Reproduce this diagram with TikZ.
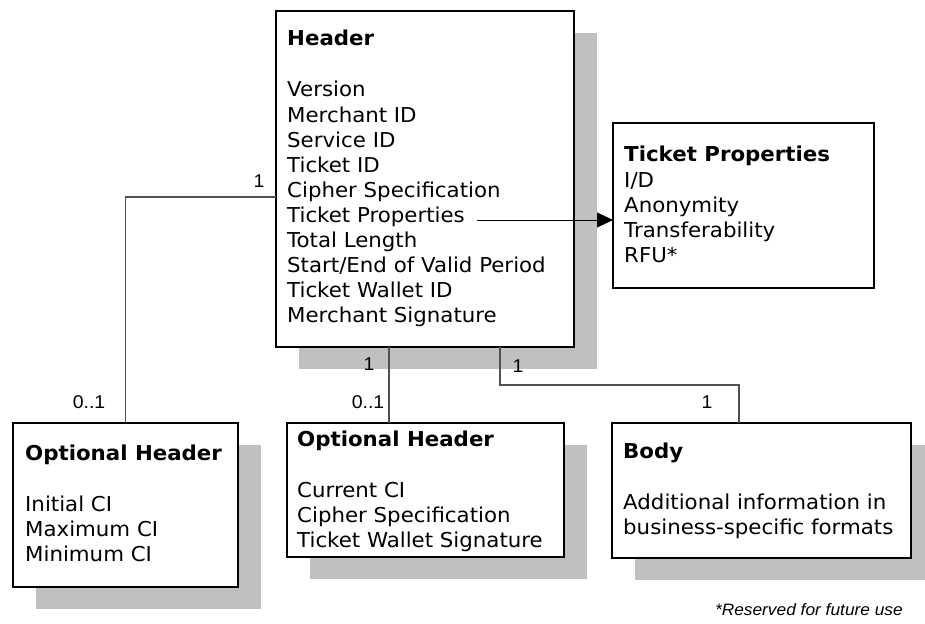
\documentclass[tikz,border=0pt]{standalone}
\usepackage{fontspec}
\setmainfont{DejaVu Sans}[FakeStretch=1.04]
\newfontfamily\labelfont{Liberation Sans}[FakeStretch=1.05]
\usetikzlibrary{arrows.meta,backgrounds,calc}

\definecolor{shade}{RGB}{192,192,192}
\definecolor{linkgray}{RGB}{80,80,80}

\begin{document}
\begin{tikzpicture}[x=1pt,y=-1pt,
  box/.style={draw=black, line width=1.6pt, fill=white, anchor=north west,
              inner sep=0pt, outer sep=0pt},
  entry/.style={anchor=base west, inner sep=0pt, font=\fontsize{20.5}{25}\selectfont},
  title/.style={entry, font=\fontsize{20.5}{25}\selectfont\bfseries},
  mult/.style={inner sep=0pt, font=\labelfont\fontsize{18.5}{20}\selectfont},
  link/.style={draw=linkgray, line width=1.1pt},
  shadow/.style={fill=shade},
]
\useasboundingbox (0,0) rectangle (925,623);

% class boxes
\node[box, minimum width=298, minimum height=336] (hdr)  at (276,11)  {};
\node[box, minimum width=261, minimum height=165] (tp)   at (613,123) {};
\node[box, minimum width=225, minimum height=164] (oh1)  at (13,423)  {};
\node[box, minimum width=277, minimum height=134] (oh2)  at (287,423) {};
\node[box, minimum width=299, minimum height=135] (body) at (612,423) {};

% drop shadows behind the boxes
\begin{scope}[on background layer]
  \foreach \b in {hdr,oh1,oh2,body}
    \fill[shadow] ($(\b.north west)+(23,22)$) rectangle ($(\b.south east)+(23,22)$);
\end{scope}

% Header contents
\node[title] (hdr-t) at (287,46) {Header};
\foreach \t [count=\i] in {Version, Merchant ID, Service ID, Ticket ID,
    Cipher Specification, Ticket Properties, Total Length,
    Start/End of Valid Period, Ticket Wallet ID, Merchant Signature}
  \node[entry] (hdr-\i) at (287,{97+25*(\i-1)}) {\t};

% Ticket Properties contents
\node[title] (tp-t) at (624,161) {Ticket Properties};
\foreach \t [count=\i] in {I/D, Anonymity, Transferability, RFU*}
  \node[entry] (tp-\i) at (624,{187+25*(\i-1)}) {\t};

% first Optional Header contents
\node[title] (oh1-t) at (25,460) {Optional Header};
\foreach \t [count=\i] in {Initial CI, Maximum CI, Minimum CI}
  \node[entry] (oh1-\i) at (25,{511+25*(\i-1)}) {\t};

% second Optional Header contents
\node[title] (oh2-t) at (297,446) {Optional Header};
\foreach \t [count=\i] in {Current CI, Cipher Specification, Ticket Wallet Signature}
  \node[entry] (oh2-\i) at (297,{497+25*(\i-1)}) {\t};

% Body contents
\node[title] (body-t) at (623,458) {Body};
\node[entry] (body-1) at (623,509) {Additional information in};
\node[entry] (body-2) at (623,534) {business-specific formats};

% connector anchor points
\coordinate (xa) at (389,0);
\coordinate (xb) at (500,0);
\coordinate (bend) at (739,385);
\coordinate (tpsrc) at (477,220);

% associations
\draw[link] (hdr.north west) ++(0,186) -| (oh1.north);
\draw[link] (hdr.south -| xa) -- (oh2.north -| xa);
\draw[link] (hdr.south -| xb) |- (bend) -- (body.north -| bend);
\draw[draw=black, line width=0.9pt, -{Triangle[length=16pt,width=15pt]}]
  (tpsrc) -- (tpsrc -| tp.west);

% multiplicities
\node[mult] (m1)  at (259,181) {1};
\node[mult] (m2)  at (89,402)  {0..1};
\node[mult] (m3)  at (369,364) {1};
\node[mult] (m4)  at (368,402) {0..1};
\node[mult] (m5)  at (518,366) {1};
\node[mult] (m6)  at (707,402) {1};

% footnote
\node[anchor=base east, inner sep=0pt, font=\labelfont\itshape\fontsize{16.5}{20}\selectfont]
  (note) at (903,615) {*Reserved for future use};
\end{tikzpicture}
\end{document}
